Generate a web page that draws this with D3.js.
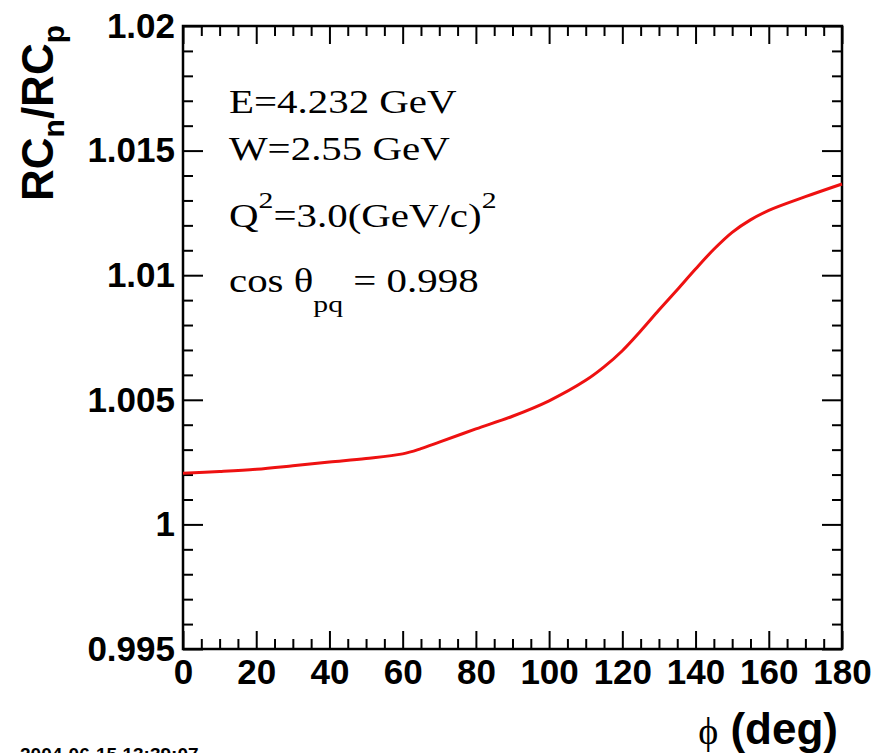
<!DOCTYPE html>
<html>
<head>
<meta charset="utf-8">
<script src="https://cdn.jsdelivr.net/npm/d3@7"></script>
<style>
	html, body { margin: 0; padding: 0; background: #fff; }
	svg { display: block; }
</style>
</head>
<body>
<div id="chart"></div>
<script>
'use strict';

// phi (deg) and the ratio RC_n / RC_p
var phi = [0, 10, 20, 30, 40, 50, 60, 65, 70, 80, 90, 100, 110, 115, 120,
	125, 130, 135, 140, 145, 150, 155, 160, 170, 180];
var ratio = [1.00205, 1.00212, 1.00221, 1.00235, 1.00250, 1.00264, 1.00283,
	1.00304, 1.00330, 1.00383, 1.00434, 1.00496, 1.00578, 1.00632, 1.00697,
	1.00776, 1.00860, 1.00942, 1.01025, 1.01104, 1.01172, 1.01222, 1.01260,
	1.01315, 1.01366];

var xTicks = [0, 20, 40, 60, 80, 100, 120, 140, 160, 180];
var yTicks = [0.995, 1, 1.005, 1.01, 1.015, 1.02];
var yLabels = ['0.995', '1', '1.005', '1.01', '1.015', '1.02'];

var infoLines = ['E=4.232 GeV', 'W=2.55 GeV'];
var stamp = '2004-06-15 13:39:07';

var W = 890, H = 753;
var margin = { top: 26, right: 48, bottom: 104, left: 183 };
var w = W - margin.left - margin.right;
var h = H - margin.top - margin.bottom;

var x = d3.scaleLinear().domain([0, 180]).range([0, w]);
var y = d3.scaleLinear().domain([0.995, 1.02]).range([h, 0]);

var xMinor = d3.range(0, 181, 5).filter(function (d) { return d % 20 !== 0; });
var yMinor = d3.range(0, 26).map(function (i) { return 0.995 + i * 0.001; })
	.filter(function (d, i) { return i % 5 !== 0; });

var svg = d3.select('#chart').append('svg')
	.attr('width', W)
	.attr('height', H);

var g = svg.append('g')
	.attr('transform', 'translate(' + margin.left + ',' + margin.top + ')');

var tickFont = 'Liberation Sans, Arial, Helvetica, sans-serif';
var serif = 'Liberation Serif, Times New Roman, serif';

function styleAxis(sel) {
	sel.select('.domain').remove();
	sel.selectAll('line').attr('stroke', '#000').attr('stroke-width', 2);
	sel.selectAll('text')
		.attr('fill', '#000')
		.style('font-family', tickFont)
		.style('font-weight', 'bold')
		.style('font-size', '35px');
}

// major ticks with labels
g.append('g').attr('transform', 'translate(0,' + h + ')')
	.call(d3.axisBottom(x).tickValues(xTicks).tickSize(-18).tickPadding(10))
	.call(styleAxis);
g.append('g')
	.call(d3.axisLeft(y).tickValues(yTicks).tickSize(-20).tickPadding(8)
		.tickFormat(function (d, i) { return yLabels[i]; }))
	.call(styleAxis);

// opposite sides, no labels
g.append('g')
	.call(d3.axisTop(x).tickValues(xTicks).tickSize(-18).tickFormat(''))
	.call(styleAxis);
g.append('g').attr('transform', 'translate(' + w + ',0)')
	.call(d3.axisRight(y).tickValues(yTicks).tickSize(-20).tickFormat(''))
	.call(styleAxis);

// minor ticks all round
g.append('g').attr('transform', 'translate(0,' + h + ')')
	.call(d3.axisBottom(x).tickValues(xMinor).tickSize(-10).tickFormat(''))
	.call(styleAxis);
g.append('g')
	.call(d3.axisTop(x).tickValues(xMinor).tickSize(-10).tickFormat(''))
	.call(styleAxis);
g.append('g')
	.call(d3.axisLeft(y).tickValues(yMinor).tickSize(-10).tickFormat(''))
	.call(styleAxis);
g.append('g').attr('transform', 'translate(' + w + ',0)')
	.call(d3.axisRight(y).tickValues(yMinor).tickSize(-10).tickFormat(''))
	.call(styleAxis);

// frame
g.append('rect')
	.attr('width', w)
	.attr('height', h)
	.attr('fill', 'none')
	.attr('stroke', '#000')
	.attr('stroke-width', 2.5);

// curve
var line = d3.line()
	.x(function (d, i) { return x(phi[i]); })
	.y(function (d) { return y(d); })
	.curve(d3.curveCatmullRom.alpha(0.5));

g.append('path')
	.datum(ratio)
	.attr('d', line)
	.attr('fill', 'none')
	.attr('stroke', '#ee1111')
	.attr('stroke-width', 3);

// info text (serif, stretched a bit like the original)
var info = svg.append('g')
	.attr('transform', 'translate(229,0) scale(1.24,1)')
	.style('font-family', serif)
	.style('font-size', '33px')
	.attr('fill', '#000');

info.append('text').attr('x', 0).attr('y', 113).text(infoLines[0]);
info.append('text').attr('x', 0).attr('y', 160).text(infoLines[1]);

var q = info.append('text').attr('x', 0).attr('y', 227);
q.append('tspan').text('Q');
q.append('tspan').attr('dy', -19).style('font-size', '24px').text('2');
q.append('tspan').attr('dy', 19).text('=3.0(GeV/c)');
q.append('tspan').attr('dy', -19).style('font-size', '24px').text('2');

var c = info.append('text').attr('x', 0).attr('y', 292);
c.append('tspan').text('cos \u03b8');
c.append('tspan').attr('dy', 20).style('font-size', '24px').text('pq');
c.append('tspan').attr('dy', -20).text(' = 0.998');

// axis titles
var yt = svg.append('text')
	.attr('transform', 'translate(53,25) rotate(-90)')
	.attr('text-anchor', 'end')
	.style('font-family', tickFont)
	.style('font-weight', 'bold')
	.style('font-size', '44px')
	.attr('fill', '#000');
yt.append('tspan').text('RC');
yt.append('tspan').attr('dy', 11).style('font-size', '30px').text('n');
yt.append('tspan').attr('dy', -11).text('/RC');
yt.append('tspan').attr('dy', 11).style('font-size', '30px').text('p');

var xt = svg.append('text')
	.attr('x', 838)
	.attr('y', 744)
	.attr('text-anchor', 'end')
	.style('font-family', tickFont)
	.style('font-weight', 'bold')
	.style('font-size', '44px')
	.attr('fill', '#000');
xt.append('tspan')
	.style('font-family', serif)
	.style('font-weight', 'normal')
	.style('font-size', '38px')
	.text('\u03d5');
xt.append('tspan').text(' (deg)');

// date stamp, cut by the bottom edge as in the original
svg.append('text')
	.attr('x', 20)
	.attr('y', 761)
	.style('font-family', tickFont)
	.style('font-weight', 'bold')
	.style('font-size', '19px')
	.attr('fill', '#000')
	.text(stamp);
</script>
</body>
</html>
